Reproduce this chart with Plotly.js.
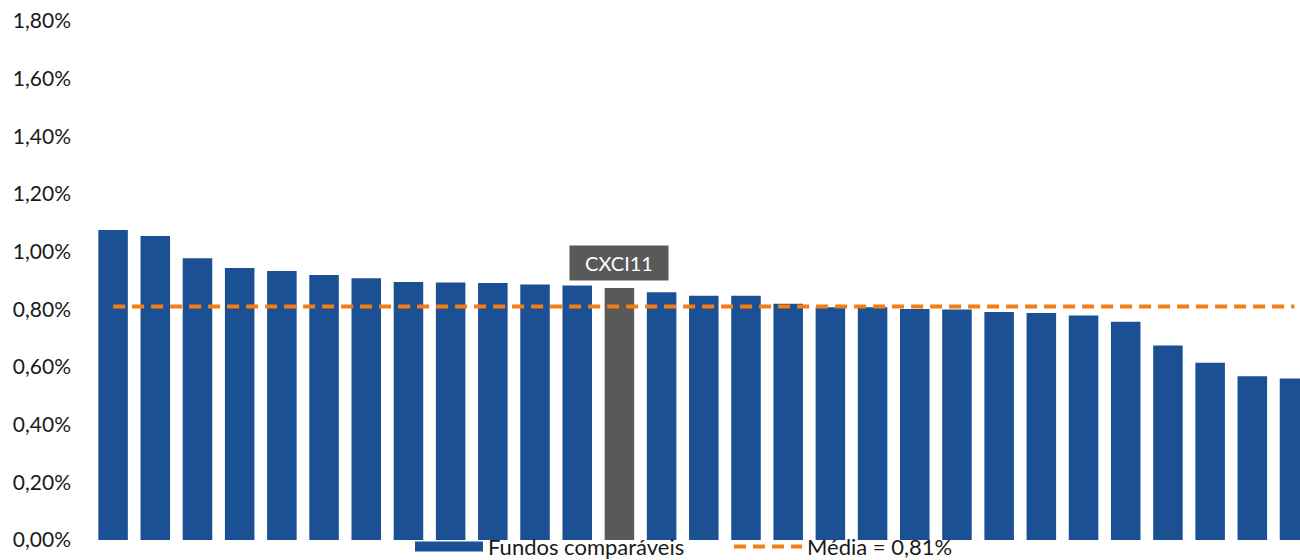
<!DOCTYPE html>
<html>
<head>
<meta charset="utf-8">
<script src="https://cdn.plot.ly/plotly-3.0.1.min.js"></script>
<style>html,body{margin:0;padding:0;background:#fff;}#chart{width:1300px;height:560px;}</style>
</head>
<body>
<div id="chart"></div>
<script>
const funds = ["F01","F02","F03","F04","F05","F06","F07","F08","F09","F10","F11","F12","CXCI11","F14","F15","F16","F17","F18","F19","F20","F21","F22","F23","F24","F25","F26","F27","F28","F29"];
const dividendYield = [1.075,1.054,0.977,0.943,0.933,0.919,0.908,0.895,0.893,0.891,0.886,0.883,0.874,0.859,0.847,0.847,0.819,0.807,0.807,0.801,0.799,0.791,0.787,0.779,0.757,0.675,0.615,0.568,0.560];
const highlight = "CXCI11";
const meanValue = 0.81;
const meanLine = funds.map(() => meanValue);
const yTicks = [0,0.2,0.4,0.6,0.8,1.0,1.2,1.4,1.6,1.8];
const yTickText = ["0,00%","0,20%","0,40%","0,60%","0,80%","1,00%","1,20%","1,40%","1,60%","1,80%"];

const BLUE = "#1B5194", GRAY = "#595959", ORANGE = "#F47D14";
const barColors = funds.map(f => f === highlight ? GRAY : BLUE);

const traces = [
  {type:"bar", name:"Fundos comparáveis", x:funds, y:dividendYield, showlegend:false,
   marker:{color:barColors, line:{width:0}}, width:0.7, hoverinfo:"y", legendgroup:"b"},
  // legend entry for the bars (wide rectangle like the original)
  {type:"scatter", mode:"lines", name:"Fundos comparáveis", x:[funds[0]], y:[null],
   line:{color:BLUE, width:14}, legendgroup:"b", hoverinfo:"skip"},
  {type:"scatter", mode:"lines", name:"Média = 0,81%", x:funds, y:meanLine,
   line:{color:ORANGE, width:4, dash:"12px,7px"}}
];

const layout = {
  width:1300, height:560,
  margin:{l:92, r:0, t:21, b:20, autoexpand:false},
  paper_bgcolor:"#fff", plot_bgcolor:"#fff",
  font:{family:"Lato, 'Open Sans', sans-serif", color:"#1a1a1a"},
  showlegend:true,
  legend:{orientation:"h", x:(410-92)/1208, xanchor:"left", y:-0.013, yanchor:"middle",
          font:{size:22, color:"#1a1a1a"}, itemwidth:68, entrywidth:236, entrywidthmode:"pixels",
          bgcolor:"rgba(0,0,0,0)", borderwidth:0, tracegroupgap:0},
  xaxis:{type:"category", range:[-0.5, 28.13], showticklabels:false, showgrid:false,
         zeroline:false, showline:false, ticks:"", fixedrange:true},
  yaxis:{range:[0,1.8], tickvals:yTicks, ticktext:yTickText,
         showgrid:false, zeroline:false, showline:false, ticks:"",
         tickfont:{size:21, color:"#1a1a1a"}, ticklabelstandoff:20, fixedrange:true},
  annotations:[{x:highlight, y:dividendYield[funds.indexOf(highlight)], xref:"x", yref:"y",
    text:"CXCI11", showarrow:false, yanchor:"bottom", yshift:7,
    bgcolor:GRAY, font:{color:"#fff", size:20}, borderpad:5, width:88}]
};

Plotly.newPlot("chart", traces, layout, {displayModeBar:false, staticPlot:true});
</script>
</body>
</html>
